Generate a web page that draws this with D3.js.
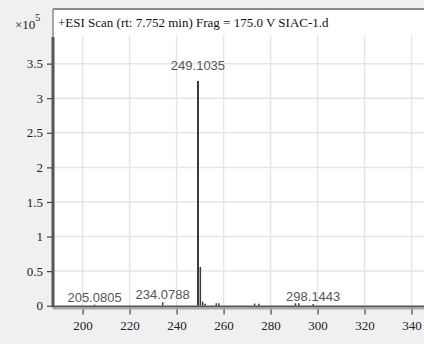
<!DOCTYPE html>
<html>
<head>
<meta charset="utf-8">
<script src="https://cdn.jsdelivr.net/npm/d3@7"></script>
<style>
  body { margin: 0; background: #f0f0f0; }
  svg { display: block; }
</style>
</head>
<body>
<script>
// spectrum peaks (m/z, counts)
var mz = [205.0805, 234.0788, 249.1035, 250.1069, 251.10, 252.10, 256.9, 258.0, 273.2, 275.0, 290.6, 292.0, 298.1443];
var counts = [1500, 5000, 325000, 56000, 6000, 3000, 3500, 3500, 3000, 3000, 3500, 3500, 2500];
var labelled = ["205.0805", "234.0788", "249.1035", "298.1443"];

var xTicks = [200, 220, 240, 260, 280, 300, 320, 340];
var yTicks = [0, 0.5, 1, 1.5, 2, 2.5, 3, 3.5];
var title = "+ESI Scan (rt: 7.752 min) Frag = 175.0 V SIAC-1.d";

var width = 424,
    height = 344;

var plotLeft = 53, plotTop = 9, plotBottom = 306.5, plotRight = 424;

var svg = d3.select("body").append("svg")
    .attr("width", width)
    .attr("height", height);

svg.append("rect")
    .attr("width", width).attr("height", height)
    .attr("fill", "#f0f0f0");

svg.append("rect")
    .attr("x", plotLeft).attr("y", plotTop)
    .attr("width", plotRight - plotLeft).attr("height", plotBottom - plotTop)
    .attr("fill", "#fff");

var x = d3.scaleLinear().domain([187.4, 345.3]).range([plotLeft, plotRight]);
var y = d3.scaleLinear().domain([0, 4.29]).range([plotBottom - 0.8, plotTop]);

// grid
svg.append("g").selectAll("line")
    .data(yTicks.filter(d => d > 0))
    .enter().append("line")
    .attr("x1", plotLeft).attr("x2", plotRight)
    .attr("y1", d => y(d)).attr("y2", d => y(d))
    .attr("stroke", "#e6e6e6").attr("stroke-width", 1.5);

svg.append("g").selectAll("line")
    .data(xTicks)
    .enter().append("line")
    .attr("x1", d => x(d)).attr("x2", d => x(d))
    .attr("y1", 35).attr("y2", plotBottom)
    .attr("stroke", "#e6e6e6").attr("stroke-width", 1.5);

// frame
svg.append("line")
    .attr("x1", plotLeft).attr("x2", plotRight).attr("y1", plotTop).attr("y2", plotTop)
    .attr("stroke", "#8a8a8a").attr("stroke-width", 2);
svg.append("line")
    .attr("x1", plotLeft).attr("x2", plotLeft).attr("y1", plotTop).attr("y2", 37)
    .attr("stroke", "#8a8a8a").attr("stroke-width", 1.5);

// peaks
var peaks = mz.map((m, i) => ({ mz: m, v: counts[i] / 1e5 }));
svg.append("g").selectAll("line")
    .data(peaks)
    .enter().append("line")
    .attr("x1", d => x(d.mz)).attr("x2", d => x(d.mz))
    .attr("y1", y(0)).attr("y2", d => y(d.v))
    .attr("stroke", "#3a3a3a")
    .attr("stroke-width", d => d.v > 1 ? 2 : 1.5);

svg.append("g").selectAll("text")
    .data(peaks.filter(d => labelled.indexOf(d.mz.toFixed(4)) >= 0))
    .enter().append("text")
    .attr("x", d => x(d.mz))
    .attr("y", d => y(d.v) - (d.v > 1 ? 11 : 3))
    .attr("text-anchor", "middle")
    .attr("font-family", "Liberation Sans, Arial, sans-serif")
    .attr("font-size", 13)
    .attr("fill", "#555")
    .text(d => d.mz.toFixed(4));

// axes
var yAxis = svg.append("g")
    .attr("transform", "translate(" + plotLeft + ",0)")
    .call(d3.axisLeft(y).tickValues(yTicks).tickSize(6).tickPadding(4)
        .tickFormat(d3.format("")));
var xAxis = svg.append("g")
    .attr("transform", "translate(0," + (plotBottom + 1) + ")")
    .call(d3.axisBottom(x).tickValues(xTicks).tickSize(7).tickPadding(6));

[yAxis, xAxis].forEach(function (a) {
    a.select(".domain").remove();
    a.selectAll("line").attr("stroke", "#444").attr("stroke-width", 1.2);
    a.selectAll("text")
        .attr("font-family", "Liberation Serif, Times New Roman, serif")
        .attr("font-size", 13)
        .attr("fill", "#222");
});

svg.append("line")
    .attr("x1", plotLeft).attr("x2", plotLeft).attr("y1", 37).attr("y2", plotBottom + 1)
    .attr("stroke", "#555").attr("stroke-width", 3);
svg.append("line")
    .attr("x1", plotLeft).attr("x2", plotRight).attr("y1", plotBottom).attr("y2", plotBottom)
    .attr("stroke", "#555").attr("stroke-width", 2);
svg.append("line")
    .attr("x1", plotLeft).attr("x2", plotRight).attr("y1", plotBottom + 2).attr("y2", plotBottom + 2)
    .attr("stroke", "#a8a8a8").attr("stroke-width", 2);

// title and multiplier
svg.append("text")
    .attr("x", 58).attr("y", 27)
    .attr("font-family", "Liberation Serif, Times New Roman, serif")
    .attr("font-size", 13)
    .attr("fill", "#111")
    .text(title);

var mult = svg.append("text")
    .attr("x", 15).attr("y", 29)
    .attr("font-family", "Liberation Serif, Times New Roman, serif")
    .attr("font-size", 13)
    .attr("fill", "#222");
mult.append("tspan").text("×10");
mult.append("tspan").attr("dy", -8).attr("font-size", 10).text("5");
</script>
</body>
</html>
